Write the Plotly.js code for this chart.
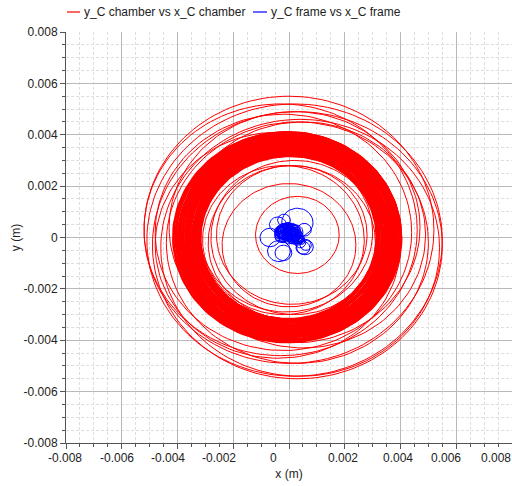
<!DOCTYPE html>
<html>
<head>
<meta charset="utf-8">
<script src="https://cdn.plot.ly/plotly-3.0.1.min.js"></script>
<style>
  html, body { margin: 0; padding: 0; background: #ffffff; }
  #chart { width: 512px; height: 486px; }
</style>
</head>
<body>
<div id="chart"></div>
<script>
// ---- chamber trajectory loops (centre x, centre y, radius, in m) ----
const chamberOuterCx = [0.0002, 0.0000, 0.0003, 0.0004, -0.0003, 0.0003, -0.0002, 0.0005, -0.0004, 0.0002];
const chamberOuterCy = [-0.0001, 0.0003, -0.0003, -0.0004, 0.0003, -0.0002, 0.0002, 0.0001, -0.0003, 0.0004];
const chamberOuterR  = [0.0053, 0.0052, 0.0052, 0.0050, 0.0049, 0.0047, 0.0046, 0.0044, 0.0044, 0.0045];

const chamberBandCx = [
  0.00000,-0.00005,0.00005,-0.00010,0.00000,0.00008,-0.00006,0.00003,-0.00012,0.00006,
  0.00000,-0.00004,0.00009,-0.00008,0.00002,0.00005,-0.00010,0.00000,0.00007,-0.00003,
  0.00004,-0.00007,0.00001,0.00010,-0.00005,0.00003,-0.00009,0.00006,0.00000,-0.00004,
  0.00008,-0.00002,0.00004,-0.00011,0.00002,0.00006,-0.00006,0.00000,0.00003,-0.00008,
  0.00005,-0.00003,0.00001,-0.00007,0.00004,-0.00005,0.00002,-0.00009,0.00000,-0.00004,
  -0.00006,-0.00002,-0.00008,-0.00005,-0.00007,0.00012,-0.00012,0.00010,-0.00010,0.00008,
  -0.00008,0.00006,0.00004,-0.00004,0.00007,-0.00007,0.00003,-0.00003,0.00009,-0.00009
];
const chamberBandCy = [
  0.00000,0.00004,-0.00006,0.00002,0.00008,-0.00003,0.00005,-0.00008,0.00001,0.00006,
  -0.00004,0.00007,0.00000,-0.00005,0.00009,-0.00002,0.00003,-0.00007,0.00005,0.00001,
  -0.00009,0.00004,0.00006,-0.00001,-0.00006,0.00008,0.00000,-0.00004,0.00003,0.00007,
  -0.00002,-0.00008,0.00005,0.00002,-0.00005,0.00004,0.00009,-0.00003,0.00001,-0.00006,
  0.00006,0.00000,-0.00007,0.00003,0.00005,-0.00002,0.00008,0.00001,-0.00004,0.00004,
  0.00002,0.00005,-0.00001,0.00003,0.00001,0.00012,-0.00012,-0.00010,0.00010,-0.00008,
  0.00008,-0.00006,0.00011,-0.00011,0.00009,-0.00009,0.00007,-0.00007,0.00005,-0.00005
];
const chamberBandR = [
  0.00318,0.00320,0.00322,0.00323,0.00325,0.00327,0.00329,0.00330,0.00332,0.00334,
  0.00335,0.00337,0.00339,0.00340,0.00342,0.00344,0.00345,0.00347,0.00349,0.00350,
  0.00352,0.00354,0.00355,0.00357,0.00359,0.00360,0.00362,0.00364,0.00365,0.00367,
  0.00369,0.00370,0.00372,0.00374,0.00375,0.00377,0.00379,0.00380,0.00382,0.00384,
  0.00385,0.00387,0.00389,0.00390,0.00392,0.00394,0.00395,0.00397,0.00399,0.00400,
  0.00402,0.00404,0.00406,0.00408,0.00410,0.00336,0.00348,0.00358,0.00368,0.00378,
  0.00388,0.00398,0.00343,0.00353,0.00363,0.00373,0.00383,0.00393,0.00328,0.00333
];

const chamberInnerCx = [0.0000, 0.0001, -0.0002, 0.0002, 0.0003, -0.0001, 0.0001];
const chamberInnerCy = [-0.0003, 0.0001, -0.0001, 0.0000, 0.0001, 0.0002, -0.0002];
const chamberInnerR  = [0.0024, 0.0027, 0.0029, 0.0030, 0.0015, 0.0031, 0.0030];

// ---- frame trajectory loops (centre x, centre y, radius, in m) ----
const framePetalCx = [0.0003, -0.00018, -0.00068, -0.00036, -0.0002, 0.00057, 0.0005, 0.0006, 0.00055, -0.0004];
const framePetalCy = [0.00058, 0.00068, 0.0000, -0.00053, -0.0006, -0.00037, -0.0004, -0.0003, 0.0003, 0.0005];
const framePetalR  = [0.00056, 0.00023, 0.00036, 0.00041, 0.0003, 0.0003, 0.00025, 0.0002, 0.00025, 0.0003];

const frameCoreCx = [
  -0.0003,-0.0002,-0.0001,0.0000,0.0001,0.0002,-0.00025,-0.00015,-0.00005,0.00005,
  0.00015,0.00025,-0.0002,-0.0001,0.0000,0.0001,0.0002,0.0003,0.00035,0.0004,
  0.00045,0.0003,-0.00035,-0.0004,0.0000,0.0001,-0.0001,0.0002,0.00005,-0.00015,
  -0.0001,0.0000,-0.0002,0.0001,-0.0003,0.0000,0.0002,-0.0001,0.0001,-0.0002,
  -0.00012,0.00008,-0.00022,0.00018,-0.00032,0.00028,0.00038,-0.00008,0.00012,-0.00018,
  0.00002,0.00022,-0.00028,0.00032,0.00042,-0.00004,0.00014,-0.00024,0.00006,0.00026
];
const frameCoreCy = [
  0.0003,0.00035,0.0004,0.00035,0.0003,0.00025,0.0002,0.00022,0.00025,0.00022,
  0.0002,0.00015,0.0001,0.00012,0.00015,0.0001,0.00005,0.0000,-0.0001,-0.0002,
  -0.00015,-0.00005,0.0001,0.00025,0.0000,0.00005,0.0000,-0.0001,0.0004,0.00045,
  0.0002,0.0003,0.0001,0.0001,0.0002,0.0000,0.0002,0.0003,0.0000,0.0000,
  0.00028,0.00032,0.00018,0.00012,0.00015,0.00005,-0.00008,0.00008,0.00022,0.00036,
  0.00018,0.00028,0.00004,-0.00012,-0.00005,0.00042,-0.00004,0.00024,0.00012,0.0001
];
const frameCoreR = [
  0.00015,0.0002,0.00012,0.00018,0.00022,0.00015,0.0002,0.00025,0.00012,0.0002,
  0.00018,0.00015,0.0002,0.00014,0.00022,0.00016,0.0002,0.00018,0.00015,0.0002,
  0.00012,0.00018,0.00015,0.00012,0.0001,0.00014,0.00012,0.00016,0.0001,0.0001,
  0.0003,0.00025,0.0003,0.00028,0.0002,0.00025,0.0003,0.0002,0.00022,0.00018,
  0.00026,0.00024,0.00022,0.00027,0.00019,0.00023,0.00017,0.00021,0.00029,0.00016,
  0.00025,0.00019,0.00023,0.00018,0.00014,0.00017,0.00021,0.00026,0.00028,0.00022
];

// ---- axis ticks ----
const tickVals = [-0.008, -0.006, -0.004, -0.002, 0, 0.002, 0.004, 0.006, 0.008];
const yTickText = ['-0.008', '-0.006', '-0.004', '-0.002', '0', '0.002', '0.004', '0.006', '0.008'];
const xTickText = ['-0.008', '-0.006', '-0.004', '-0.002', '0', '0.002', '0.004', '0.006', '0.008'];
// the reference draws its x tick labels a little to the left of their grid lines (px)
const xTickShift = [-1, -5, -10, -14, -16, -2, -3, -10, -16];

const legendNames = ['y_C chamber vs x_C chamber', 'y_C frame vs x_C frame'];
const legendColors = ['#ff0000', '#0000ff'];

function loopsToPath(groups, n) {
  const x = [], y = [];
  groups.forEach(function (g) {
    for (let i = 0; i < g[0].length; i++) {
      for (let k = 0; k <= n; k++) {
        const a = 2 * Math.PI * k / n;
        x.push(g[0][i] + g[2][i] * Math.cos(a));
        y.push(g[1][i] + g[2][i] * Math.sin(a));
      }
      x.push(null); y.push(null);
    }
  });
  return { x: x, y: y };
}

const chamberSparse = loopsToPath([
  [chamberOuterCx, chamberOuterCy, chamberOuterR],
  [chamberInnerCx, chamberInnerCy, chamberInnerR]
], 140);
const chamberBand = loopsToPath([[chamberBandCx, chamberBandCy, chamberBandR]], 140);
const frame = loopsToPath([
  [framePetalCx, framePetalCy, framePetalR],
  [frameCoreCx, frameCoreCy, frameCoreR]
], 48);

const traces = [
  {
    type: 'scatter', mode: 'lines', name: legendNames[0], showlegend: false,
    x: chamberSparse.x, y: chamberSparse.y, connectgaps: false,
    line: { color: legendColors[0], width: 1 }
  },
  {
    type: 'scatter', mode: 'lines', name: legendNames[0], showlegend: false,
    x: chamberBand.x, y: chamberBand.y, connectgaps: false,
    line: { color: legendColors[0], width: 1.6 }
  },
  {
    type: 'scatter', mode: 'lines', name: legendNames[1], showlegend: false,
    x: frame.x, y: frame.y, connectgaps: false,
    line: { color: legendColors[1], width: 1 }
  }
];

const FONT = 'Liberation Sans, Arial, sans-serif';

const axisCommon = {
  range: [-0.008, 0.008],
  tickmode: 'array', tickvals: tickVals, tickangle: 0,
  showgrid: true, gridcolor: '#b9b9b9', gridwidth: 1,
  zeroline: false,
  showline: true, linecolor: '#555555', linewidth: 1,
  ticks: 'outside', ticklen: 5, tickcolor: '#555555',
  tickfont: { family: FONT, size: 12, color: '#222222' },
  minor: {
    dtick: 0.0005, tick0: 0, showgrid: true, gridcolor: '#dedede', griddash: '3px,2px',
    gridwidth: 1, ticks: 'outside', ticklen: 3, tickcolor: '#555555'
  }
};

const plotL = 66, plotW = 446, plotTop = 32, plotH = 411;
function px2x(px) { return (px - plotL) / plotW; }
function py2y(py) { return (plotTop + plotH - py) / plotH; }

// hand-drawn legend: short line + text
const legendLineX = [[67, 80], [253, 267]];
const legendTextX = [82, 269];
const legendY = 12;

const shapes = legendNames.map(function (n, i) {
  return {
    type: 'line', xref: 'paper', yref: 'paper',
    x0: px2x(legendLineX[i][0]), x1: px2x(legendLineX[i][1]),
    y0: py2y(legendY), y1: py2y(legendY),
    line: { color: legendColors[i], width: 1.2 }
  };
});
const annotations = legendNames.map(function (n, i) {
  return {
    text: n, xref: 'paper', yref: 'paper', showarrow: false,
    x: px2x(legendTextX[i]), y: py2y(legendY), xanchor: 'left', yanchor: 'middle',
    font: { family: FONT, size: 12, color: '#222222' }
  };
});
// x tick labels, placed on the x axis values and nudged left like the reference
xTickText.forEach(function (t, i) {
  annotations.push({
    text: t, xref: 'x', yref: 'paper', x: tickVals[i], y: py2y(458),
    xanchor: 'center', yanchor: 'middle', xshift: xTickShift[i], showarrow: false,
    font: { family: FONT, size: 12, color: '#222222' }
  });
});

const layout = {
  width: 512, height: 486,
  margin: { l: 66, r: 0, t: 32, b: 43, pad: 0 },
  paper_bgcolor: '#ffffff', plot_bgcolor: '#ffffff',
  showlegend: false,
  shapes: shapes,
  annotations: annotations,
  xaxis: Object.assign({}, axisCommon, {
    showticklabels: false,
    title: { text: 'x (m)', standoff: 21, font: { family: FONT, size: 12, color: '#222222' } }
  }),
  yaxis: Object.assign({}, axisCommon, {
    ticktext: yTickText,
    title: { text: 'y (m)', standoff: 0, font: { family: FONT, size: 12, color: '#222222' } }
  })
};

Plotly.newPlot('chart', traces, layout, { displayModeBar: false, staticPlot: true });
</script>
</body>
</html>
